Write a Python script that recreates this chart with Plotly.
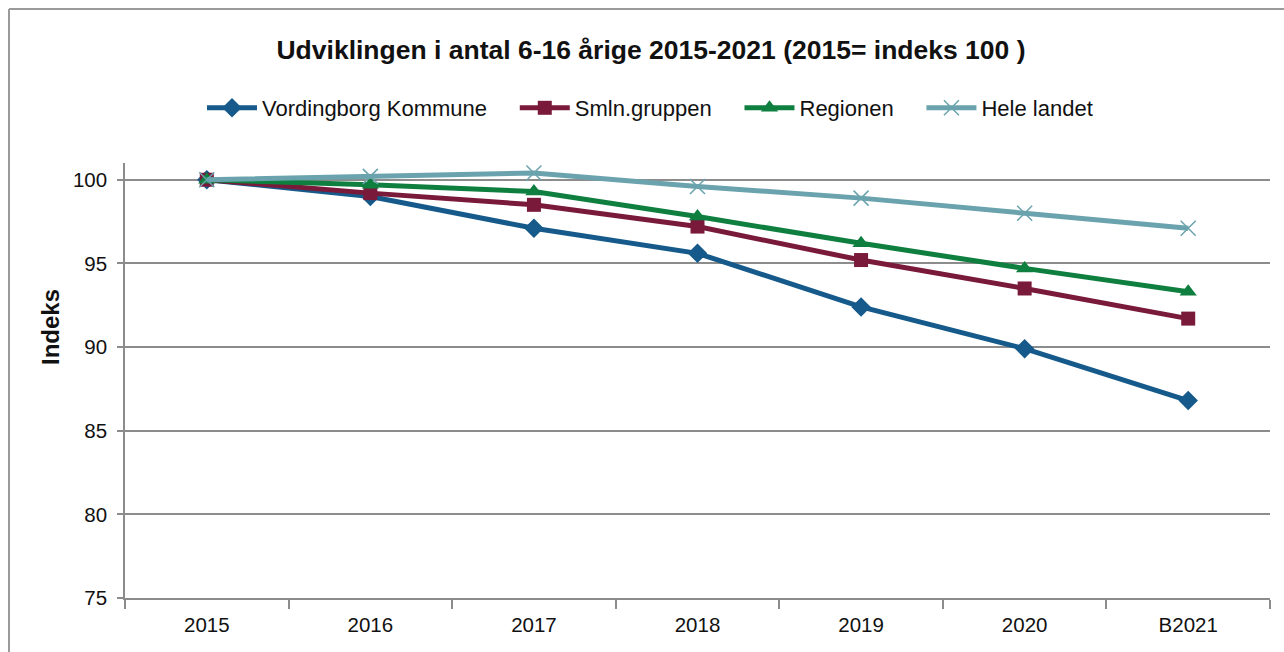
import plotly.graph_objects as go

years = ["2015", "2016", "2017", "2018", "2019", "2020", "B2021"]
vordingborg = [100.0, 99.0, 97.1, 95.6, 92.4, 89.9, 86.8]
smln = [100.0, 99.2, 98.5, 97.2, 95.2, 93.5, 91.7]
regionen = [100.0, 99.7, 99.3, 97.8, 96.2, 94.7, 93.3]
hele = [100.0, 100.2, 100.4, 99.6, 98.9, 98.0, 97.1]

PAD = "\u00a0" * 3 + "\u2009"
series = [
    ("Vordingborg Kommune" + PAD, vordingborg, "#155a8a", "diamond", 15, 0),
    ("Smln.gruppen" + PAD, smln, "#7a1a3a", "square", 14, 0),
    ("Regionen" + PAD, regionen, "#0f7f40", "triangle-up", 15, 0),
    ("Hele landet", hele, "#6aa3ad", "x-thin-open", 15, 1.5),
]

FONT = "Liberation Sans, Arial, sans-serif"

fig = go.Figure()
for name, vals, col, sym, size, lw in series:
    mk = dict(symbol=sym, size=size, color=col)
    if lw:
        mk["line"] = dict(color=col, width=lw)
    fig.add_trace(go.Scatter(
        x=years, y=vals, name=name, mode="lines+markers",
        line=dict(color=col, width=5), marker=mk,
    ))

W, H = 1284, 652
L, R, T, B = 125, 14, 163, 54
pw = W - L - R
ph = H - T - B

def px_x(p):
    return (p - L) / pw

def px_y(p):
    return (H - B - p) / ph

fig.update_layout(
    width=W, height=H,
    margin=dict(l=L, r=R, t=T, b=B, autoexpand=False),
    paper_bgcolor="white", plot_bgcolor="white",
    font=dict(family=FONT, size=18, color="#111111"),
    title=dict(text="<b>Udviklingen i antal 6-16 årige 2015-2021 (2015= indeks 100 )</b>",
               x=0.5 + 9 / W, xanchor="center", xref="container", yref="container",
               y=1 - 50 / H, yanchor="middle",
               font=dict(family=FONT, size=26.5, color="#111111")),
    legend=dict(orientation="h", x=0.5 + 8 / W, xanchor="center", xref="container",
                yref="container", y=1 - 108 / H, yanchor="middle",
                font=dict(family=FONT, size=22), itemwidth=50, tracegroupgap=0),
    showlegend=True,
    shapes=[
        dict(type="line", xref="paper", yref="paper", x0=px_x(9), x1=px_x(W + 5),
             y0=px_y(9), y1=px_y(9), line=dict(color="#9a9a9a", width=2)),
        dict(type="line", xref="paper", yref="paper", x0=px_x(9), x1=px_x(9),
             y0=px_y(9), y1=px_y(H + 5), line=dict(color="#9a9a9a", width=2)),
    ],
    annotations=[
        dict(text="<b>Indeks</b>", xref="paper", yref="paper", x=px_x(50), y=px_y(327),
             xanchor="center", yanchor="middle", textangle=-90, showarrow=False,
             font=dict(family=FONT, size=24, color="#111111")),
    ],
)
fig.update_xaxes(
    type="category", range=[-0.5, 6.5], tickson="boundaries",
    ticks="outside", ticklen=9, tickcolor="#8c8c8c", tickwidth=1.5,
    showline=True, linecolor="#8c8c8c", linewidth=1.5, automargin=False,
    showgrid=False, tickfont=dict(family=FONT, size=20.5), ticklabelstandoff=8,
)
fig.update_yaxes(
    range=[75, 101], tickvals=[75, 80, 85, 90, 95, 100],
    ticks="outside", ticklen=6, tickcolor="#8c8c8c", tickwidth=1.5,
    showline=True, linecolor="#8c8c8c", linewidth=1.5, automargin=False,
    showgrid=True, gridcolor="#8c8c8c", gridwidth=1.5, zeroline=False,
    tickfont=dict(family=FONT, size=20.5), ticklabelstandoff=6,
)
fig.write_html("out.html", config={"displayModeBar": False},
               post_script="document.body.style.margin='0';document.body.style.overflow='hidden';")
